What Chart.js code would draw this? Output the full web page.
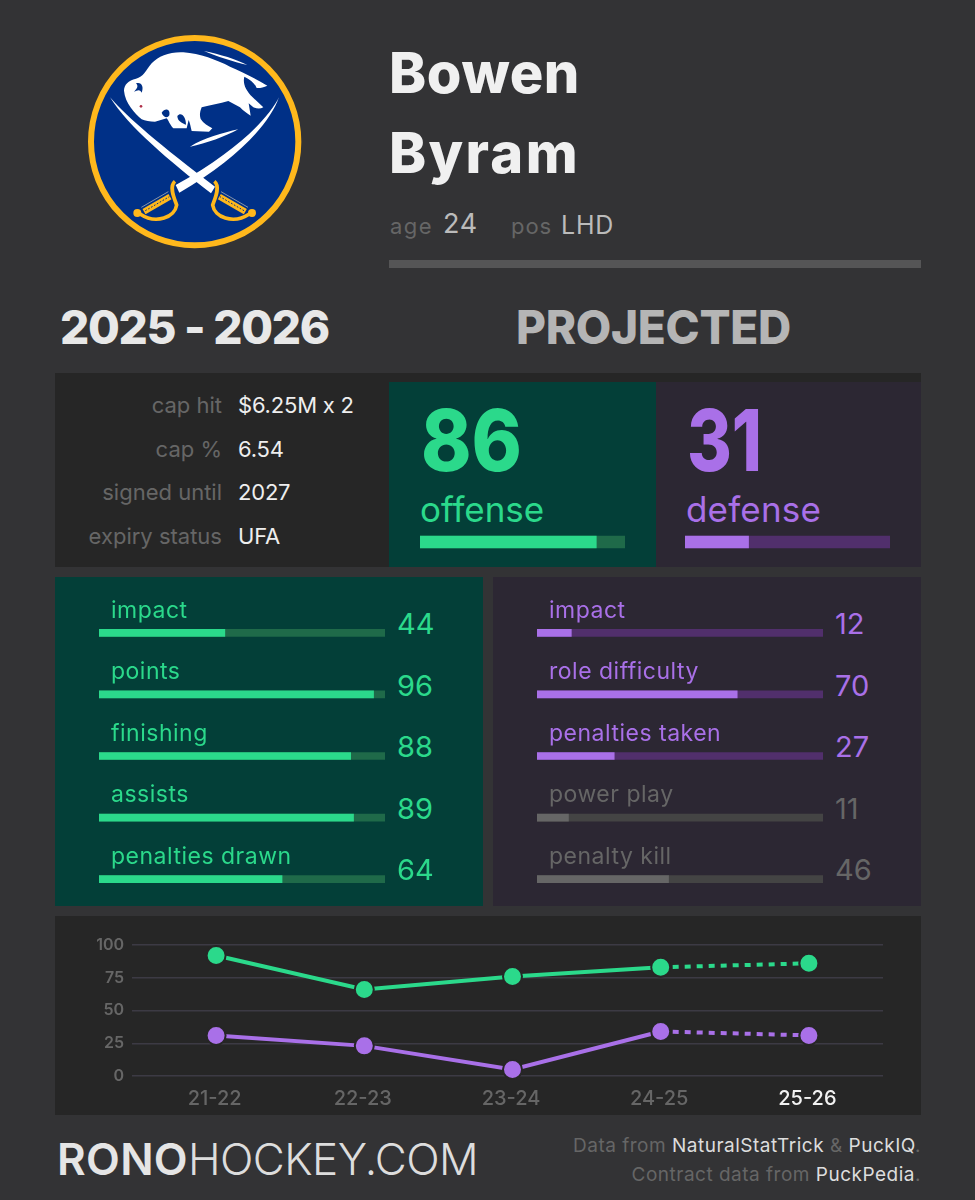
<!DOCTYPE html>
<html>
<head>
<meta charset="utf-8">
<title>Bowen Byram</title>
<script src="https://cdn.jsdelivr.net/npm/chart.js@4"></script>
<style>
  html, body { margin: 0; padding: 0; background: #333335; }
  #page { position: relative; width: 975px; height: 1200px; overflow: hidden; font-family: Inter, sans-serif; }
  .panel { position: absolute; }
  .panel-dark { background: #262626; }
  .panel-green { background: #033f38; }
  .panel-purple { background: #2c2733; }
  .box { position: absolute; }
  .box canvas { display: block; }
  .txt { position: absolute; line-height: 0; white-space: nowrap; }
  #logo { position: absolute; left: 60px; top: 20px; width: 270px; height: 240px; }
</style>
</head>
<body>
<div id="page">
  <svg id="logo" viewBox="0 0 810 720">
    <defs>
      <g id="hilt">
        <path d="M345,484 C325,500 345,540 350,555 C345,590 290,615 240,582" fill="none" stroke="#ffb81c" stroke-width="11"/>
        <path d="M252,575 L330,530" stroke="#ffb81c" stroke-width="18" fill="none"/>
        <path d="M256,572 L328,530" stroke="#003087" stroke-width="3" stroke-dasharray="5 5" fill="none"/>
        <path d="M244,562 L325,515" stroke="#c9c6b8" stroke-width="2" fill="none"/>
        <circle cx="232" cy="579" r="12" fill="#ffb81c"/>
      </g>
    </defs>
    <circle cx="404" cy="365" r="311" fill="#003087" stroke="#ffb81c" stroke-width="18"/>
    <path fill="#fff" d="M192,212 C192,195 205,180 228,176 C250,172 258,150 275,130 C295,108 330,95 370,97 C420,100 470,120 510,140 C545,155 580,172 622,197 C610,203 598,205 590,204 C585,190 570,178 553,170 C548,190 556,210 578,232 L610,262 C600,268 590,266 580,262 L566,250 C568,262 570,275 572,287 C560,280 550,272 540,262 L505,243 C480,250 450,256 425,262 C420,275 418,285 422,297 C430,310 445,318 457,325 L447,335 L395,333 C392,320 390,310 386,300 L380,325 L340,325 C330,315 325,300 320,295 L285,305 C270,305 255,303 245,298 C225,280 195,250 192,212 Z"/>
    <path fill="#003087" d="M228,190 C245,185 252,200 245,218 C238,205 232,212 222,215 C232,205 236,198 228,190 Z"/>
    <path fill="#003087" d="M305,278 C316,262 332,268 328,286 C322,296 310,292 305,278 Z M352,288 C364,274 378,292 378,314 C368,310 352,304 352,288 Z"/>
    <circle cx="243" cy="259" r="4" fill="#b0304a"/>
    <path fill="#fff" d="M432,93 C480,103 530,118 562,135 C520,125 470,110 432,93 Z M390,380 C430,355 490,338 535,328 C495,350 440,370 390,380 Z"/>
    <path fill="#fff" d="M150,232 C205,295 300,375 465,500 L453,520 C330,425 205,320 150,232 Z"/>
    <path fill="#fff" d="M657,232 C625,295 530,395 347,495 L358,518 C530,420 630,310 657,232 Z"/>
    <use href="#hilt"/>
    <use href="#hilt" transform="translate(808,0) scale(-1,1)"/>
  </svg>

  <div class="panel panel-dark" style="left:55px;top:373px;width:866px;height:194px"></div>
  <div class="panel panel-green" style="left:389px;top:382px;width:267px;height:185px"></div>
  <div class="panel panel-purple" style="left:656px;top:382px;width:265px;height:185px"></div>
  <div class="panel panel-green" style="left:55px;top:577px;width:428px;height:329px"></div>
  <div class="panel panel-purple" style="left:493px;top:577px;width:428px;height:329px"></div>
  <div class="panel panel-dark" style="left:55px;top:916px;width:866px;height:199px"></div>
  <div class="panel" style="left:389px;top:260px;width:532px;height:8px;background:#555556"></div>

  <div class="box" style="left:420px;top:530px;width:205px;height:24px"><canvas id="offenseBar"></canvas></div>
  <div class="box" style="left:685px;top:530px;width:205px;height:24px"><canvas id="defenseBar"></canvas></div>
  <div class="box" style="left:99px;top:602px;width:286px;height:308px"><canvas id="offenseRows"></canvas></div>
  <div class="box" style="left:537px;top:602px;width:286px;height:308px"><canvas id="defenseRows"></canvas></div>
  <div class="box" style="left:55px;top:916px;width:866px;height:199px"><canvas id="trend"></canvas></div>
</div>

<script>
const seasons = ["21-22", "22-23", "23-24", "24-25", "25-26"];
const yTicks = [0, 25, 50, 75, 100];
const offenseTrend = [92, 66, 76, 83, 86];
const defenseTrend = [31, 23, 5, 34, 31];

const offenseOverall = [86];
const defenseOverall = [31];

const offenseLabels = ["impact", "points", "finishing", "assists", "penalties drawn"];
const offenseValues = [44, 96, 88, 89, 64];
const defenseLabels = ["impact", "role difficulty", "penalties taken", "power play", "penalty kill"];
const defenseValues = [12, 70, 27, 11, 46];

const contractLabels = ["cap hit", "cap %", "signed until", "expiry status"];
const contractValues = ["$6.25M x 2", "6.54", "2027", "UFA"];

const GREEN = "#2bd98b";
const GREEN_TRACK = "#1f6a49";
const PURPLE = "#a970e8";
const PURPLE_TRACK = "#512f6c";
const GREY = "#666666";
const GREY_TRACK = "#444444";
const FONT = "Inter, sans-serif";

const page = document.getElementById("page");

// ========= TEXT =========
// y is the baseline. width stretches the text with letter spacing, squeeze scales it
function text(str, x, y, size, color, opts = {}) {
  const el = document.createElement("span");
  el.className = "txt";
  el.textContent = str;
  el.style.fontSize = size + "px";
  el.style.color = color;
  el.style.fontWeight = opts.weight || 400;
  el.style.top = (y - 0.364 * size) + "px";
  if (opts.spacing) el.style.letterSpacing = opts.spacing + "px";
  if (opts.right) el.style.right = (975 - x) + "px";
  else el.style.left = x + "px";
  page.appendChild(el);
  if (opts.width) {
    const extra = (opts.width - el.getBoundingClientRect().width) / str.length;
    el.style.letterSpacing = extra + "px";
  }
  if (opts.squeeze) {
    el.style.transformOrigin = "left center";
    el.style.transform = `scaleX(${opts.squeeze / el.getBoundingClientRect().width})`;
  }
  return el;
}

text("Bowen", 389, 93, 56, "#f0f0f0", { weight: 800, width: 191 });
text("Byram", 389, 173, 56, "#f0f0f0", { weight: 800, width: 191 });
text("age", 390, 234, 22, GREY, { width: 43 });
text("24", 443, 234, 27, "#bbbbbb", { width: 35 });
text("pos", 511, 234, 22, GREY, { width: 41 });
text("LHD", 561, 234, 25, "#bbbbbb", { width: 53 });

text("2025 - 2026", 60, 344, 46, "#e8e8e8", { weight: 800, width: 269 });
text("PROJECTED", 516, 344, 46, "#b5b5b5", { weight: 800, width: 275 });

contractLabels.forEach((label, i) => {
  const y = 413 + i * 43.6;
  text(label, 222, y, 22, GREY, { right: true });
  text(contractValues[i], 238, y, 22, "#eeeeee", { spacing: -0.2 });
});

text(String(offenseOverall[0]), 421, 472, 85, GREEN, { weight: 800, squeeze: 101 });
text("offense", 420, 522, 35, GREEN, { width: 124 });
text(String(defenseOverall[0]), 687, 472, 85, PURPLE, { weight: 800, squeeze: 75 });
text("defense", 686, 522, 35, PURPLE, { width: 135 });

// faded rows on the defense side are power play and penalty kill
const defenseColors = [PURPLE, PURPLE, PURPLE, GREY, GREY];
const defenseTracks = [PURPLE_TRACK, PURPLE_TRACK, PURPLE_TRACK, GREY_TRACK, GREY_TRACK];

offenseLabels.forEach((label, i) => {
  text(label, 111, 618 + i * 61.5, 23, GREEN, { spacing: 0.5 });
  text(String(offenseValues[i]), 397, 635 + i * 61.5, 29, GREEN);
});
defenseLabels.forEach((label, i) => {
  text(label, 549, 618 + i * 61.5, 23, defenseColors[i], { spacing: 0.5 });
  text(String(defenseValues[i]), 835, 635 + i * 61.5, 29, defenseColors[i]);
});

text("RONO", 57, 1175, 44, "#e5e5e5", { weight: 600, width: 131 });
text("HOCKEY.COM", 188, 1175, 44, "#dddddd", { weight: 300, width: 290 });

function credits(parts, y) {
  const el = text("", 921, y, 19, GREY, { right: true, spacing: 0.5 });
  parts.forEach(([str, color]) => {
    const s = document.createElement("span");
    s.textContent = str;
    s.style.color = color;
    el.appendChild(s);
  });
}
credits([["Data from ", GREY], ["NaturalStatTrick", "#dddddd"], [" & ", GREY], ["PuckIQ", "#dddddd"], [".", GREY]], 1153);
credits([["Contract data from ", GREY], ["PuckPedia", "#dddddd"], [".", GREY]], 1182);

// ========= BARS =========
function drawBars(id, labels, values, colors, tracks, thickness) {
  new Chart(document.getElementById(id), {
    type: "bar",
    data: {
      labels,
      datasets: [
        { data: values, backgroundColor: colors, barThickness: thickness, grouped: false },
        { data: labels.map(() => 100), backgroundColor: tracks, barThickness: thickness, grouped: false }
      ]
    },
    options: {
      indexAxis: "y",
      responsive: true,
      maintainAspectRatio: false,
      animation: false,
      layout: { padding: 0 },
      plugins: { legend: { display: false }, tooltip: { enabled: false } },
      scales: {
        x: { display: false, min: 0, max: 100 },
        y: { display: false }
      }
    }
  });
}

drawBars("offenseBar", ["offense"], offenseOverall, GREEN, GREEN_TRACK, 12);
drawBars("defenseBar", ["defense"], defenseOverall, PURPLE, PURPLE_TRACK, 12);
drawBars("offenseRows", offenseLabels, offenseValues, GREEN, GREEN_TRACK, 7);
drawBars("defenseRows", defenseLabels, defenseValues, defenseColors, defenseTracks, 7);

// ========= TREND LINE =========
function trendDataset(data, color) {
  return {
    data,
    borderColor: color,
    backgroundColor: color,
    borderWidth: 4,
    pointRadius: 9.5,
    pointBorderColor: "#262626",
    pointBorderWidth: 2,
    tension: 0,
    clip: false,
    // last season is a projection, drawn dotted
    segment: { borderDash: (ctx) => (ctx.p0DataIndex === seasons.length - 2 ? [6, 6] : undefined) }
  };
}

new Chart(document.getElementById("trend"), {
  type: "line",
  data: {
    labels: seasons,
    datasets: [trendDataset(offenseTrend, GREEN), trendDataset(defenseTrend, PURPLE)]
  },
  options: {
    responsive: true,
    maintainAspectRatio: false,
    animation: false,
    layout: { padding: { top: 29, right: 38, left: 0, bottom: 0 } },
    plugins: { legend: { display: false }, tooltip: { enabled: false } },
    scales: {
      x: {
        offset: true,
        grid: { display: false },
        border: { display: false },
        afterFit: (s) => { s.height = 39; },
        ticks: {
          padding: 3,
          labelOffset: -1.5,
          color: (c) => (c.index === seasons.length - 1 ? "#f2f2f2" : GREY),
          font: { family: FONT, size: 20, weight: 500 }
        }
      },
      y: {
        min: 0,
        max: 100,
        afterFit: (s) => { s.width = 87; },
        afterBuildTicks: (s) => { s.ticks = yTicks.map((value) => ({ value })); },
        grid: { color: "#3c3a44", lineWidth: 1.5, tickLength: 10 },
        border: { display: false },
        ticks: {
          padding: 8,
          color: GREY,
          font: { family: FONT, size: 16, weight: 600 }
        }
      }
    }
  }
});
</script>
</body>
</html>
